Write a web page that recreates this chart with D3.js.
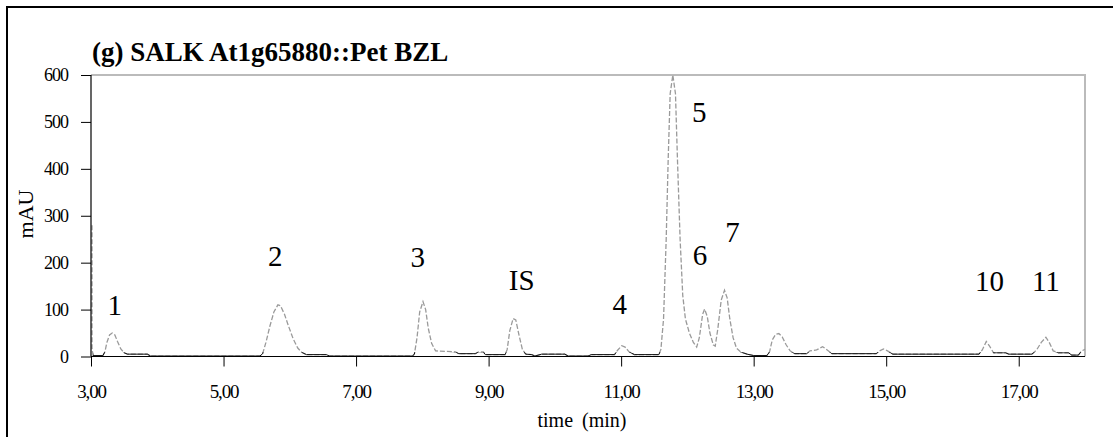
<!DOCTYPE html>
<html>
<head>
<meta charset="utf-8">
<script src="https://d3js.org/d3.v7.min.js"></script>
<style>
body { margin: 0; background: #fff; }
text { font-family: "Liberation Serif", "Times New Roman", serif; }
</style>
</head>
<body>
<script>
// chromatogram trace, [time (min), mAU]
var trace = [
  [3.015, 280], [3.015, 18], [3.03, 2], [3.18, 2], [3.21, 10], [3.24, 30], [3.28, 46], [3.32, 50],
  [3.36, 46], [3.40, 32], [3.45, 16], [3.50, 8], [3.55, 5], [3.85, 5], [3.90, 1], [5.55, 1],
  [5.59, 6], [5.64, 30], [5.70, 65], [5.76, 95], [5.82, 110], [5.86, 108], [5.92, 90], [5.98, 65],
  [6.05, 38], [6.12, 18], [6.18, 9], [6.25, 4], [6.55, 4], [6.60, 1], [7.85, 1], [7.88, 5],
  [7.92, 40], [7.96, 95], [8.01, 117], [8.05, 100], [8.09, 60], [8.14, 28], [8.20, 12], [8.50, 10],
  [8.55, 6], [8.80, 6], [8.85, 10], [8.92, 10], [8.95, 4], [9.25, 4], [9.28, 15], [9.32, 55],
  [9.37, 81], [9.41, 78], [9.46, 45], [9.51, 15], [9.56, 5], [9.65, 4], [9.70, 1], [9.80, 5],
  [10.15, 5], [10.20, 1], [10.50, 1], [10.55, 4], [10.90, 4], [10.95, 14], [11.01, 23], [11.06, 20],
  [11.12, 10], [11.20, 4], [11.57, 4], [11.60, 15], [11.64, 80], [11.68, 250], [11.71, 420], [11.74, 560],
  [11.78, 600], [11.82, 560], [11.85, 420], [11.89, 250], [11.93, 130], [11.97, 80], [12.03, 50], [12.09, 30],
  [12.14, 20], [12.18, 40], [12.23, 90], [12.26, 101], [12.30, 85], [12.34, 50], [12.39, 25], [12.42, 22],
  [12.46, 60], [12.51, 120], [12.56, 141], [12.60, 125], [12.64, 80], [12.69, 40], [12.74, 18], [12.80, 10],
  [12.90, 5], [13.00, 2], [13.20, 2], [13.24, 10], [13.28, 35], [13.33, 47], [13.38, 49], [13.43, 42],
  [13.49, 25], [13.55, 12], [13.62, 6], [13.80, 6], [13.85, 12], [13.95, 14], [14.04, 21], [14.10, 15],
  [14.18, 6], [14.85, 6], [14.90, 12], [14.96, 16], [15.02, 12], [15.10, 5], [16.40, 5], [16.45, 14],
  [16.51, 32], [16.56, 22], [16.62, 8], [16.80, 8], [16.85, 5], [17.20, 5], [17.27, 14], [17.34, 30],
  [17.41, 41], [17.46, 30], [17.52, 12], [17.60, 8], [17.75, 8], [17.80, 3], [17.90, 3], [17.95, 12],
  [18.00, 15]
]

// peak labels: name, time, mAU (where the text baseline sits)
var peakNames = ["1", "2", "3", "IS", "4", "5", "6", "7", "10", "11"]
var peakTimes = [3.36, 5.78, 7.93, 9.50, 10.98, 12.18, 12.19, 12.68, 16.56, 17.41]
var peakLevels = [88, 193, 191, 141, 90, 500, 195, 244, 140, 140]

var xTicks = [3, 5, 7, 9, 11, 13, 15, 17]
var yTicks = [0, 100, 200, 300, 400, 500, 600]

var title = "(g) SALK At1g65880::Pet BZL"

var screen = {width: 1115, height: 437}
var plot = {left: 91, right: 1085, top: 75, bottom: 356.5}

var svg = d3.select("body")
  .append("svg")
  .attr("width", screen.width)
  .attr("height", screen.height)

// outer frame (top and left edges show)
svg.append("path")
  .attr("d", "M7,437 L7,7 L1113,7")
  .attr("fill", "none")
  .attr("stroke", "#000")
  .attr("stroke-width", 2)

var xScale = d3.scaleLinear()
  .domain([3, 18])
  .range([plot.left, plot.right])

var yScale = d3.scaleLinear()
  .domain([0, 600])
  .range([plot.bottom, plot.top])

// grey plot border top + right
svg.append("path")
  .attr("d", "M" + plot.left + "," + plot.top + " L" + plot.right + "," + plot.top + " L" + plot.right + "," + plot.bottom)
  .attr("fill", "none")
  .attr("stroke", "#bbb")
  .attr("stroke-width", 2)

var line = d3.line()
  .x(function(d) { return xScale(d[0]) })
  .y(function(d) { return yScale(d[1]) })

// peaks: grey dashed
svg.append("path")
  .datum(trace)
  .attr("d", line)
  .attr("fill", "none")
  .attr("stroke", "#9a9a9a")
  .attr("stroke-width", 1.3)
  .attr("stroke-dasharray", "5,2")

// near the baseline the trace prints black
svg.append("clipPath")
  .attr("id", "low")
  .append("rect")
  .attr("x", plot.left + 2)
  .attr("y", yScale(9))
  .attr("width", plot.right - plot.left)
  .attr("height", plot.bottom - yScale(9) + 2)

svg.append("path")
  .datum(trace)
  .attr("d", line)
  .attr("clip-path", "url(#low)")
  .attr("fill", "none")
  .attr("stroke", "#111")
  .attr("stroke-width", 1)

// axes
var xAxis = d3.axisBottom(xScale)
  .tickValues(xTicks)
  .tickSize(10)
  .tickFormat(function(d) { return d.toFixed(2).replace(".", ",") })

var yAxis = d3.axisLeft(yScale)
  .tickValues(yTicks)
  .tickSize(10)
  .tickPadding(13)

svg.append("g")
  .attr("id", "xAxis")
  .attr("transform", "translate(0," + plot.bottom + ")")
  .call(xAxis)
  .call(function(g) {
    g.select(".domain").attr("d", "M" + plot.left + ",0H" + plot.right)
    g.selectAll("text")
      .attr("y", 41)
      .attr("dy", 0)
      .style("font-size", "19px")
      .style("letter-spacing", "-1.2px")
      .attr("fill", "#000")
  })

svg.append("g")
  .attr("id", "yAxis")
  .attr("transform", "translate(" + plot.left + ",0)")
  .call(yAxis)
  .call(function(g) {
    g.select(".domain").attr("d", "M0," + plot.top + "V" + plot.bottom)
    g.selectAll("text")
      .style("font-size", "18px")
      .style("letter-spacing", "-1px")
      .attr("fill", "#000")
  })

svg.selectAll(".tick line").attr("stroke", "#000")
svg.selectAll(".domain").attr("stroke", "#000").attr("stroke-width", 1.2)

// axis titles
svg.append("text")
  .attr("transform", "translate(33,214) rotate(-90)")
  .style("text-anchor", "middle")
  .style("font-size", "22px")
  .text("mAU")

svg.append("text")
  .attr("x", 582)
  .attr("y", 427)
  .style("text-anchor", "middle")
  .style("font-size", "20px")
  .style("word-spacing", "4px")
  .text("time (min)")

// title
svg.append("text")
  .attr("x", 92)
  .attr("y", 61)
  .style("font-size", "27px")
  .style("font-weight", "bold")
  .text(title)

// peak labels
svg.append("g")
  .attr("id", "peaks")
  .selectAll("text")
  .data(peakNames)
  .enter()
  .append("text")
  .attr("x", function(d, i) { return xScale(peakTimes[i]) })
  .attr("y", function(d, i) { return yScale(peakLevels[i]) })
  .style("text-anchor", "middle")
  .style("font-size", "29px")
  .text(function(d) { return d })
</script>
</body>
</html>
